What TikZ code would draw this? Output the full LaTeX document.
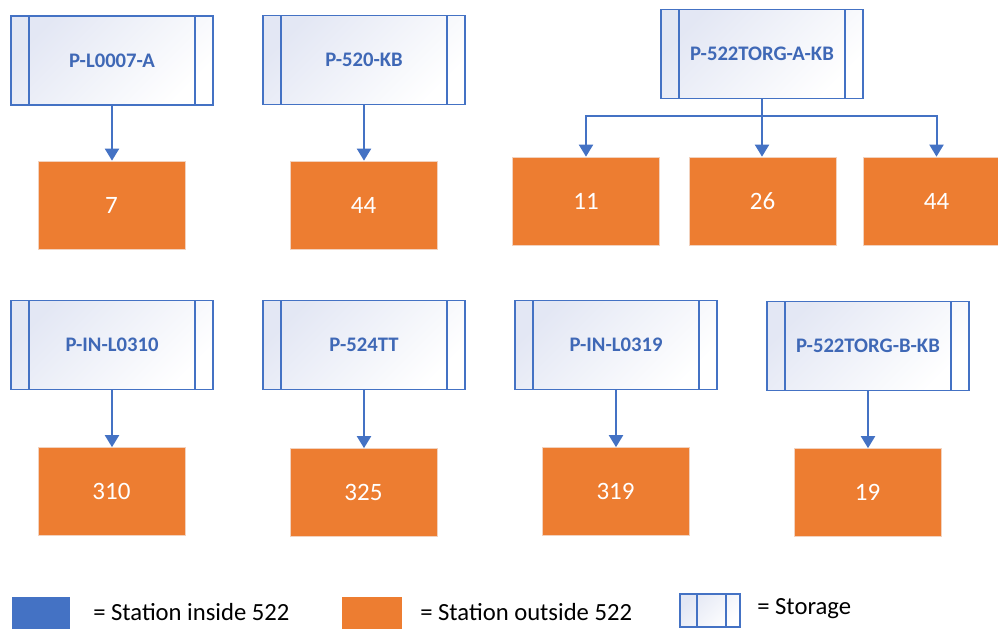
\documentclass[tikz,border=0pt]{standalone}
\usepackage{fontspec}
\setmainfont{Carlito}
\usetikzlibrary{arrows.meta,calc}
\definecolor{bl}{HTML}{4472C4}
\definecolor{txtbl}{HTML}{3F68B6}
\definecolor{orng}{HTML}{ED7D31}
\definecolor{shd}{HTML}{E3E7F4}
\definecolor{oborder}{HTML}{F2D2BE}
\tikzset{
  storage/.style={rectangle, draw=bl, line width=1.1pt, left color=shd, right color=white, shading angle=45,
    minimum width=151.5pt, minimum height=66.75pt, inner sep=0pt,
    text=txtbl, font=\fontsize{15.5}{18}\selectfont\bfseries,
    path picture={
      \draw[bl, line width=1.1pt] ([xshift=13.5pt]path picture bounding box.north west) -- ([xshift=13.5pt]path picture bounding box.south west);
      \draw[bl, line width=1.1pt] ([xshift=-13.5pt]path picture bounding box.north east) -- ([xshift=-13.5pt]path picture bounding box.south east);
    }},
  station/.style={rectangle, fill=orng, draw=oborder, line width=0.5pt,
    minimum width=110.25pt, minimum height=66pt, inner sep=0pt,
    text=white, font=\fontsize{18.75}{22}\selectfont},
  arr/.style={draw=bl, line width=1.5pt, -{Triangle[width=10.5pt,length=9pt]}},
  legtext/.style={anchor=west, inner sep=0pt, font=\fontsize{18.5}{22}\selectfont}
}
\begin{document}
\begin{tikzpicture}[x=0.75pt,y=-0.75pt]
\useasboundingbox (0,0) rectangle (998,628);
\clip (0,0) rectangle (998,628);
% storage nodes
\node[storage] (S1) at (112,60.5) {P-L0007-A};
\node[storage] (S2) at (364,60) {P-520-KB};
\node[storage] (S3) at (762,54) {P-522TORG-A-KB};
\node[storage] (S4) at (112,345) {P-IN-L0310};
\node[storage] (S5) at (364,345) {P-524TT};
\node[storage] (S6) at (616,345) {P-IN-L0319};
\node[storage] (S7) at (868,346) {P-522TORG-B-KB};
% stations
\node[station] (O1) at (111.5,205) {7};
\node[station] (O2) at (363.5,205) {44};
\node[station] (O3) at (586,201) {11};
\node[station] (O4) at (762.5,201) {26};
\node[station] (O5) at (936.5,201) {44};
\node[station] (O6) at (111.5,491.5) {310};
\node[station] (O7) at (363.5,492.5) {325};
\node[station] (O8) at (615.5,491.5) {319};
\node[station] (O9) at (867.5,492.5) {19};
% connectors
\draw[arr] (S1.south) -- (S1.south |- O1.north);
\draw[arr] (S2.south) -- (S2.south |- O2.north);
\draw[arr] (S4.south) -- (S4.south |- O6.north);
\draw[arr] (S5.south) -- (S5.south |- O7.north);
\draw[arr] (S6.south) -- (S6.south |- O8.north);
\draw[arr] (S7.south) -- (S7.south |- O9.north);
\coordinate (br) at (762,116);
\draw[arr] (S3.south) -- (S3.south |- O4.north);
\draw[arr] (S3.south |- br) -| (O3.north);
\draw[arr] (S3.south |- br) -| (O5.north);
% legend
\node[rectangle, fill=bl, minimum width=43.5pt, minimum height=24pt, inner sep=0pt] (L1) at (41,612.5) {};
\node[legtext] (T1) at (93,612) {= Station inside 522};
\node[rectangle, fill=orng, minimum width=45pt, minimum height=24pt, inner sep=0pt] (L2) at (371.5,612.5) {};
\node[legtext] (T2) at (420,612) {= Station outside 522};
\node[rectangle, draw=bl, line width=1pt, left color=shd, right color=white, shading angle=45, minimum width=45pt, minimum height=24.75pt, inner sep=0pt,
  path picture={
    \draw[bl, line width=1pt] ([xshift=12.75pt]path picture bounding box.north west) -- ([xshift=12.75pt]path picture bounding box.south west);
    \draw[bl, line width=1pt] ([xshift=-10.5pt]path picture bounding box.north east) -- ([xshift=-10.5pt]path picture bounding box.south east);
  }] (L3) at (710,610.5) {};
\node[legtext] (T3) at (757,609) {= Storage};
\end{tikzpicture}
\end{document}
